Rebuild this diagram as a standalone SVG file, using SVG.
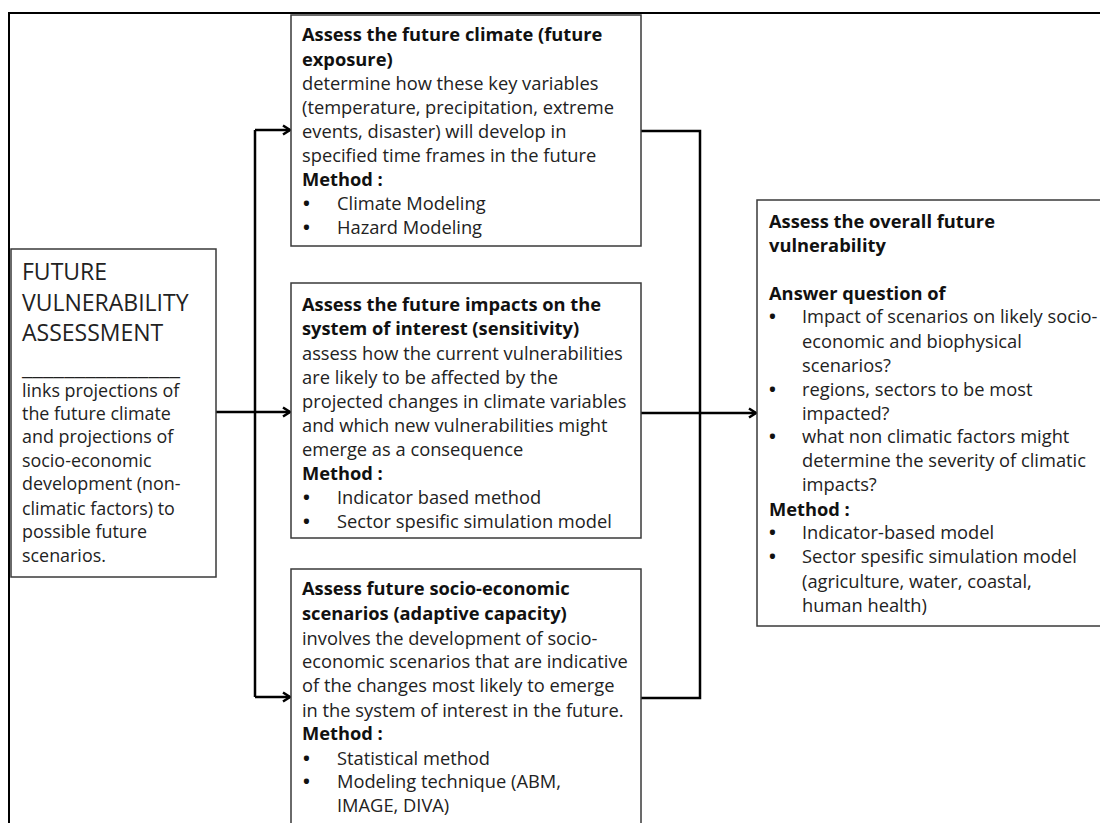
<svg xmlns="http://www.w3.org/2000/svg" width="1100" height="823" viewBox="0 0 1100 823">
  <style>
    .frame { fill: none; stroke: #000; stroke-width: 2; }
    .box { fill: #fff; stroke: #3a3a3a; stroke-width: 1.5; }
    .wire { fill: none; stroke: #000; stroke-width: 2.5; }
    text { font-family: "Open Sans", "Noto Sans", "Liberation Sans", sans-serif; font-size: 18.3px; fill: #222; }
    .b { font-weight: bold; fill: #111; }
    .dot { font-weight: bold; fill: #111; }
    .big { font-size: 23px; }
    .mid { font-size: 17.9px; }
  </style>
  <defs>
    <marker id="chev" viewBox="0 0 12 12" refX="10" refY="6" markerWidth="12" markerHeight="12" markerUnits="userSpaceOnUse" orient="auto">
      <path d="M3,1.5 L10,6 L3,10.5" fill="none" stroke="#000" stroke-width="2.5"/>
    </marker>
  </defs>
  <rect width="1100" height="823" fill="#fff"/>
  <path class="frame" d="M9,823 V13 H1100"/>

  <g id="connectors">
    <path class="wire" d="M216,412 H255"/>
    <path class="wire" d="M255,130 V697"/>
    <path class="wire" d="M255,130 H290" marker-end="url(#chev)"/>
    <path class="wire" d="M255,412 H290" marker-end="url(#chev)"/>
    <path class="wire" d="M255,697 H290" marker-end="url(#chev)"/>
    <path class="wire" d="M641,131 H700 V698 H641"/>
    <path class="wire" d="M641,413 H756" marker-end="url(#chev)"/>
  </g>

  <g id="future-vulnerability-assessment">
    <rect class="box" x="11" y="249" width="205" height="328"/>
    <text class="big" x="22" y="280">FUTURE</text>
    <text class="big" x="22" y="311">VULNERABILITY</text>
    <text class="big" x="22" y="341">ASSESSMENT</text>
    <text class="mid" x="22" y="375" textLength="158" lengthAdjust="spacingAndGlyphs">_______________</text>
    <text class="mid" x="22" y="397">links projections of</text>
    <text class="mid" x="22" y="420">the future climate</text>
    <text class="mid" x="22" y="443">and projections of</text>
    <text class="mid" x="22" y="467">socio-economic</text>
    <text class="mid" x="22" y="490">development (non-</text>
    <text class="mid" x="22" y="515">climatic factors) to</text>
    <text class="mid" x="22" y="538">possible future</text>
    <text class="mid" x="22" y="562">scenarios.</text>
  </g>

  <g id="future-climate">
    <rect class="box" x="291" y="15" width="350" height="231"/>
    <text class="b" x="302" y="41">Assess the future climate (future</text>
    <text class="b" x="302" y="66">exposure)</text>
    <text x="302" y="90">determine how these key variables</text>
    <text x="302" y="114">(temperature, precipitation, extreme</text>
    <text x="302" y="138">events, disaster) will develop in</text>
    <text x="302" y="162">specified time frames in the future</text>
    <text class="b" x="302" y="186">Method :</text>
    <text class="dot" x="303" y="210">•</text><text x="337" y="210">Climate Modeling</text>
    <text class="dot" x="303" y="234">•</text><text x="337" y="234">Hazard Modeling</text>
  </g>

  <g id="future-impacts">
    <rect class="box" x="291" y="283" width="350" height="255"/>
    <text class="b" x="302" y="311">Assess the future impacts on the</text>
    <text class="b" x="302" y="335">system of interest (sensitivity)</text>
    <text x="302" y="360">assess how the current vulnerabilities</text>
    <text x="302" y="384">are likely to be affected by the</text>
    <text x="302" y="408">projected changes in climate variables</text>
    <text x="302" y="432">and which new vulnerabilities might</text>
    <text x="302" y="456">emerge as a consequence</text>
    <text class="b" x="302" y="480">Method :</text>
    <text class="dot" x="303" y="504">•</text><text x="337" y="504">Indicator based method</text>
    <text class="dot" x="303" y="528">•</text><text x="337" y="528">Sector spesific simulation model</text>
  </g>

  <g id="socio-economic-scenarios">
    <rect class="box" x="291" y="569" width="350" height="270"/>
    <text class="b" x="302" y="595">Assess future socio-economic</text>
    <text class="b" x="302" y="620">scenarios (adaptive capacity)</text>
    <text x="302" y="645">involves the development of socio-</text>
    <text x="302" y="668">economic scenarios that are indicative</text>
    <text x="302" y="692">of the changes most likely to emerge</text>
    <text x="302" y="717">in the system of interest in the future.</text>
    <text class="b" x="302" y="740">Method :</text>
    <text class="dot" x="303" y="765">•</text><text x="337" y="765">Statistical method</text>
    <text class="dot" x="303" y="788">•</text><text x="337" y="788">Modeling technique (ABM,</text>
    <text x="337" y="812">IMAGE, DIVA)</text>
  </g>

  <g id="overall-future-vulnerability">
    <rect class="box" x="757" y="200" width="360" height="426"/>
    <text class="b" x="769" y="228">Assess the overall future</text>
    <text class="b" x="769" y="252">vulnerability</text>
    <text class="b" x="769" y="300">Answer question of</text>
    <text class="dot" x="769" y="323">•</text><text x="802" y="323">Impact of scenarios on likely socio-</text>
    <text x="802" y="348">economic and biophysical</text>
    <text x="802" y="372">scenarios?</text>
    <text class="dot" x="769" y="396">•</text><text x="802" y="396">regions, sectors to be most</text>
    <text x="802" y="420">impacted?</text>
    <text class="dot" x="769" y="443">•</text><text x="802" y="443">what non climatic factors might</text>
    <text x="802" y="467">determine the severity of climatic</text>
    <text x="802" y="491">impacts?</text>
    <text class="b" x="769" y="516">Method :</text>
    <text class="dot" x="769" y="539">•</text><text x="802" y="539">Indicator-based model</text>
    <text class="dot" x="769" y="563">•</text><text x="802" y="563">Sector spesific simulation model</text>
    <text x="802" y="588">(agriculture, water, coastal,</text>
    <text x="802" y="612">human health)</text>
  </g>
</svg>
